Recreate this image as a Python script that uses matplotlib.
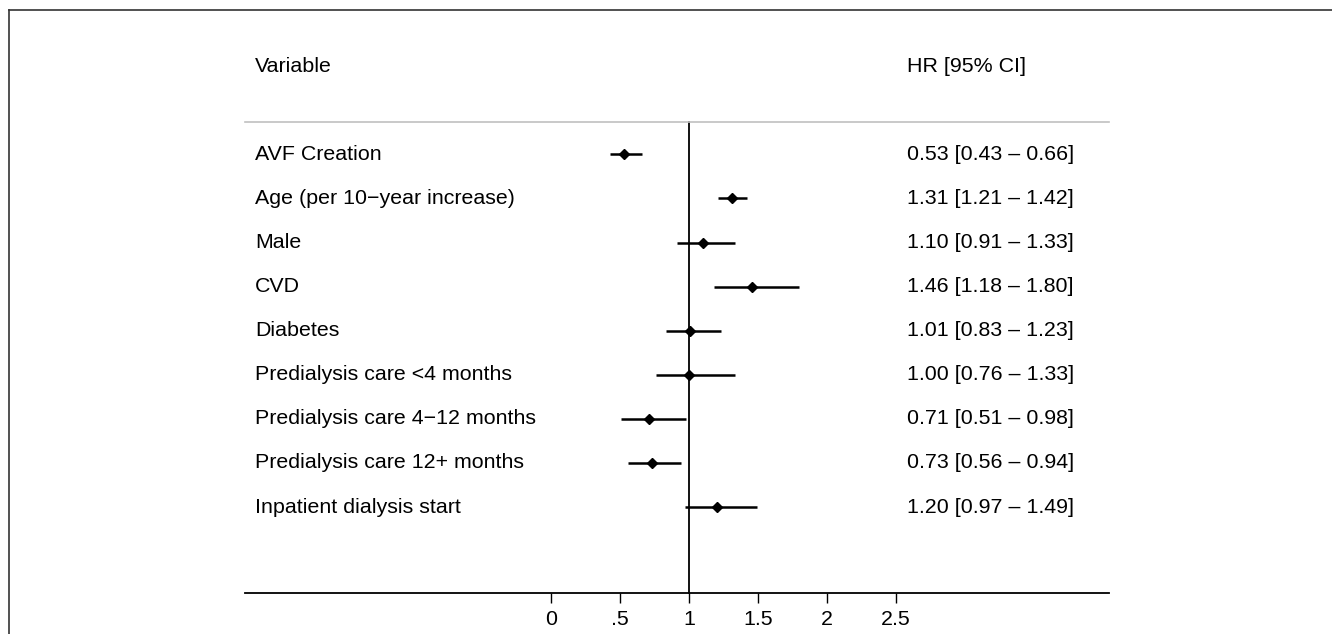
import matplotlib
matplotlib.use('Agg')
import matplotlib.pyplot as plt
from matplotlib.lines import Line2D

plt.rcParams['font.family'] = ['Liberation Sans', 'DejaVu Sans']

variables = ['AVF Creation', 'Age (per 10\u2212year increase)', 'Male', 'CVD',
             'Diabetes', 'Predialysis care <4 months',
             'Predialysis care 4\u221212 months',
             'Predialysis care 12+ months', 'Inpatient dialysis start']
hr = [0.53, 1.31, 1.10, 1.46, 1.01, 1.00, 0.71, 0.73, 1.20]
ci_low = [0.43, 1.21, 0.91, 1.18, 0.83, 0.76, 0.51, 0.56, 0.97]
ci_high = [0.66, 1.42, 1.33, 1.80, 1.23, 1.33, 0.98, 0.94, 1.49]
xticks = [0, 0.5, 1, 1.5, 2, 2.5]
xtick_labels = ['0', '.5', '1', '1.5', '2', '2.5']

W, H = 1332, 634
fig = plt.figure(figsize=(W / 100, H / 100), dpi=100)

# axes box in pixels: x 245..1109, y 31..593 (from top)
ax = fig.add_axes([245 / W, (H - 593) / H, (1109 - 245) / W, (593 - 31) / H])
ax.set_xlim(-2.217, 4.043)
ax.set_ylim(9.95, -2.8)

for s in ['top', 'right', 'left']:
    ax.spines[s].set_visible(False)
ax.spines['bottom'].set_linewidth(1.3)
ax.set_yticks([])
ax.set_xticks(xticks)
ax.set_xticklabels(xtick_labels, fontsize=15.4)
ax.tick_params(axis='x', length=7, width=1.0, pad=5)

rows = list(range(len(variables)))

# reference line at 1 and the header divider
ax.plot([1, 1], [-0.73, 9.95], color='k', lw=1.3, clip_on=False)
ax.plot([-2.217, 4.043], [-0.73, -0.73], color='#c0c0c0', lw=1.2, clip_on=False)

ax.hlines(rows, ci_low, ci_high, color='k', lw=1.8)
ax.plot(hr, rows, 'D', color='k', ms=5.5)

lab_x = -2.145
hr_x = 2.58
fs = 15.4
ax.text(lab_x, -2, 'Variable', fontsize=fs, va='center', ha='left')
ax.text(hr_x, -2, 'HR [95% CI]', fontsize=fs, va='center', ha='left')
for i, v in enumerate(variables):
    ax.text(lab_x, i, v, fontsize=fs, va='center', ha='left')
    ax.text(hr_x, i, f'{hr[i]:.2f} [{ci_low[i]:.2f} \u2013 {ci_high[i]:.2f}]',
            fontsize=fs, va='center', ha='left')

# frame visible on left and top of the original export
fig.add_artist(Line2D([8.5 / W, 8.5 / W], [0, 1 - 9.5 / H], color='#333333', lw=1.2))
fig.add_artist(Line2D([8.5 / W, 1], [1 - 9.5 / H, 1 - 9.5 / H], color='#333333', lw=1.2))

fig.savefig('out.png', dpi=100)
